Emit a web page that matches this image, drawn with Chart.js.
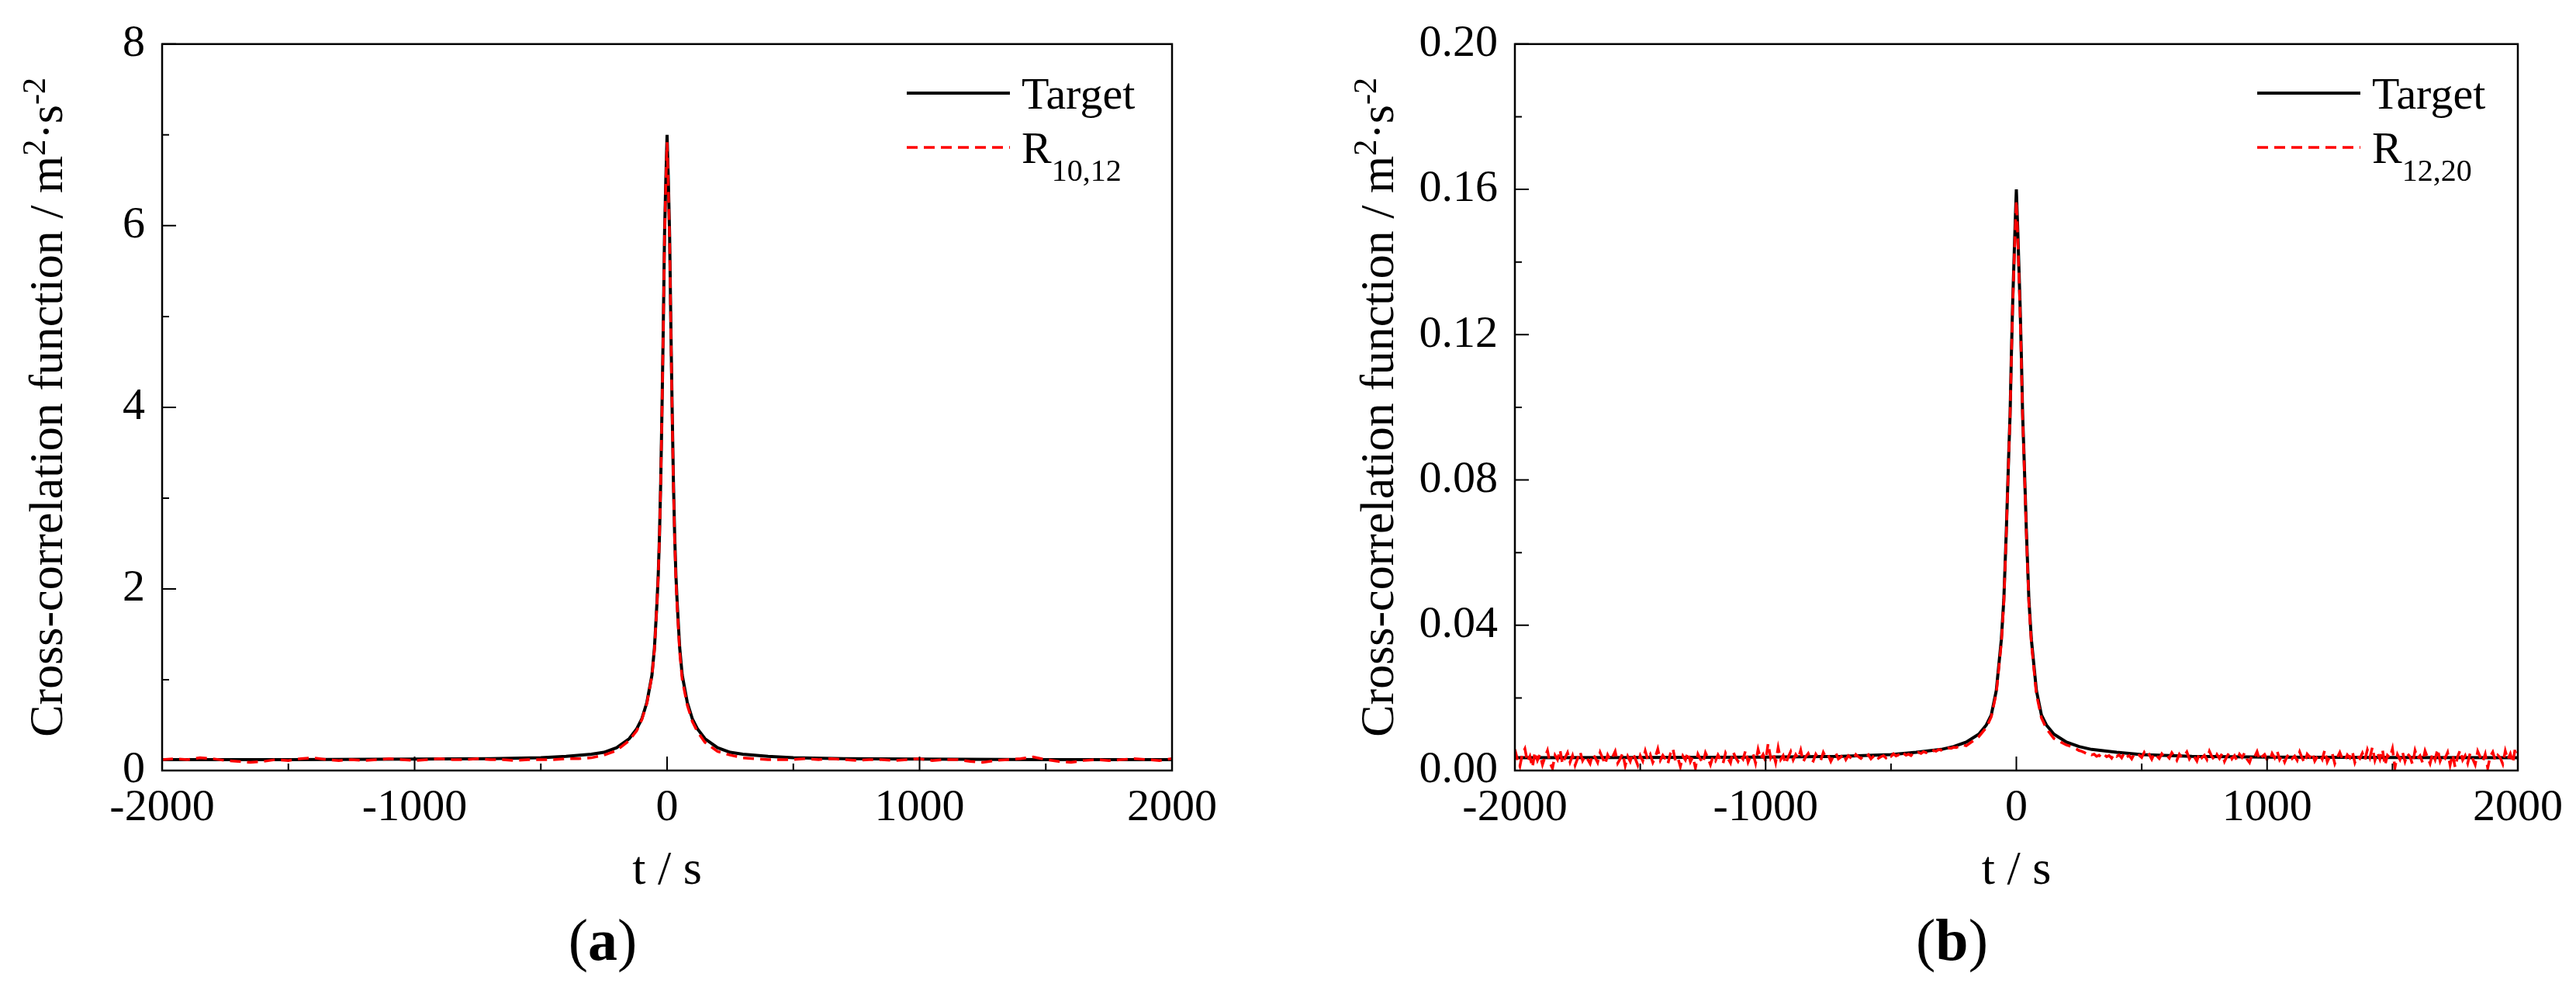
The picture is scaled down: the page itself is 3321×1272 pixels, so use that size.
<!DOCTYPE html>
<html>
<head>
<meta charset="utf-8">
<script src="https://cdn.jsdelivr.net/npm/chart.js@4"></script>
<style>
  body { margin: 0; background: #fff; overflow: hidden; }
  .panel { position: absolute; top: 0; }
</style>
</head>
<body>
<div class="panel" style="left:0px"><canvas id="chartA" width="1660" height="1272"></canvas></div>
<div class="panel" style="left:1660px"><canvas id="chartB" width="1661" height="1272"></canvas></div>
<script>
// time grid for the smooth target curves (s)
var tGrid = [-2000, -1500, -1000, -700, -500, -400, -300, -250, -200, -150, -120, -100, -80, -60, -50, -40, -35, -30, -25, -20, -15, -10, -5,
             0, 5, 10, 15, 20, 25, 30, 35, 40, 50, 60, 80, 100, 120, 150, 200, 250, 300, 400, 500, 700, 1000, 1500, 2000];
// central part used by the red curves
var tMid = [-200, -150, -120, -100, -80, -60, -50, -40, -35, -30, -25, -20, -15, -10, -5,
            0, 5, 10, 15, 20, 25, 30, 35, 40, 50, 60, 80, 100, 120, 150, 200];

// (a) target and R10,12
var targetA = [0.12, 0.12, 0.125, 0.13, 0.14, 0.155, 0.18, 0.2, 0.25, 0.35, 0.46, 0.57, 0.75, 1.05, 1.35, 1.85, 2.15, 2.6, 3.2, 4.0, 4.9, 5.9, 6.5,
               7.0, 6.5, 5.9, 4.9, 4.0, 3.2, 2.6, 2.15, 1.85, 1.35, 1.05, 0.75, 0.57, 0.46, 0.35, 0.25, 0.2, 0.18, 0.155, 0.14, 0.13, 0.125, 0.12, 0.12];
// tails every 50 s
var redALeft = [0.12, 0.13, 0.12, 0.14, 0.13, 0.11, 0.10, 0.09, 0.10, 0.12, 0.11, 0.13, 0.14, 0.12, 0.11, 0.12, 0.11, 0.12,
                0.13, 0.12, 0.11, 0.12, 0.13, 0.12, 0.12, 0.13, 0.12, 0.12, 0.11, 0.12, 0.12, 0.12, 0.13, 0.13, 0.14, 0.17];
var redAMid = [0.22, 0.33, 0.44, 0.56, 0.74, 1.04, 1.33, 1.84, 2.14, 2.58, 3.18, 3.98, 4.88, 5.88, 6.45,
               6.92, 6.42, 5.85, 4.85, 3.95, 3.15, 2.55, 2.1, 1.8, 1.3, 1.0, 0.72, 0.54, 0.43, 0.31, 0.21];
var redARight = [0.17, 0.14, 0.13, 0.12, 0.12, 0.12, 0.13, 0.12, 0.13, 0.12, 0.11, 0.12, 0.12, 0.11, 0.12, 0.13, 0.11, 0.12,
                 0.12, 0.10, 0.09, 0.11, 0.12, 0.13, 0.15, 0.12, 0.10, 0.09, 0.11, 0.12, 0.11, 0.12, 0.13, 0.12, 0.11, 0.13];

// (b) target and R12,20
var targetB = [0.0035, 0.0036, 0.0037, 0.0039, 0.0044, 0.0050, 0.0058, 0.0066, 0.0078, 0.0100, 0.0125, 0.0153, 0.0220, 0.0360, 0.0470, 0.0660, 0.0770, 0.0880, 0.0980, 0.1140, 0.1280, 0.1390, 0.1500,
               0.1600, 0.1500, 0.1390, 0.1280, 0.1140, 0.0980, 0.0880, 0.0770, 0.0660, 0.0470, 0.0360, 0.0220, 0.0153, 0.0125, 0.0100, 0.0078, 0.0066, 0.0058, 0.0050, 0.0044, 0.0039, 0.0037, 0.0036, 0.0035];
// tails every 10 s (-2000..-210 and 210..2000)
var redBLeft = [
  0.0058, 0.0031, 0.0012, 0.0046, 0.0060, 0.0024, 0.0039, 0.0009, 0.0051, 0.0028,
  0.0044, 0.0016, 0.0037, 0.0055, 0.0021, 0.0006, 0.0042, 0.0030, 0.0057, 0.0018,
  0.0035, 0.0049, 0.0023, 0.0041, 0.0014, 0.0033, 0.0052, 0.0027, 0.0040, 0.0031,
  0.0019, 0.0045, 0.0036, 0.0022, 0.0050, 0.0034, 0.0017, 0.0043, 0.0029, 0.0038,
  0.0053, 0.0020, 0.0032, 0.0047, 0.0013, 0.0039, 0.0025, 0.0048, 0.0033, 0.0015,
  0.0041, 0.0026, 0.0054, 0.0030, 0.0044, 0.0022, 0.0037, 0.0059, 0.0028, 0.0042,
  0.0032, 0.0018, 0.0046, 0.0061, 0.0027, 0.0035, 0.0011, 0.0040, 0.0029, 0.0050,
  0.0024, 0.0038, 0.0007, 0.0045, 0.0031, 0.0020, 0.0049, 0.0034, 0.0016, 0.0039,
  0.0027, 0.0043, 0.0030, 0.0019, 0.0048, 0.0033, 0.0021, 0.0052, 0.0036, 0.0025,
  0.0040, 0.0031, 0.0055, 0.0023, 0.0039, 0.0046, 0.0020, 0.0058, 0.0032, 0.0044,
  0.0026, 0.0074, 0.0035, 0.0049, 0.0022, 0.0063, 0.0030, 0.0041, 0.0018, 0.0037,
  0.0052, 0.0029, 0.0044, 0.0033, 0.0056, 0.0024, 0.0038, 0.0047, 0.0031, 0.0026,
  0.0045, 0.0034, 0.0028, 0.0050, 0.0036, 0.0042, 0.0025, 0.0039, 0.0048, 0.0032,
  0.0037, 0.0046, 0.0030, 0.0041, 0.0035, 0.0029, 0.0044, 0.0038, 0.0033, 0.0040,
  0.0036, 0.0043, 0.0032, 0.0039, 0.0045, 0.0034, 0.0038, 0.0041, 0.0035, 0.0044,
  0.0039, 0.0046, 0.0040, 0.0043, 0.0038, 0.0047, 0.0042, 0.0045, 0.0041, 0.0049,
  0.0046, 0.0050, 0.0047, 0.0052, 0.0049, 0.0054, 0.0051, 0.0055, 0.0053, 0.0058,
  0.0056, 0.0060, 0.0058, 0.0062, 0.0061, 0.0064, 0.0063, 0.0066, 0.0067, 0.0070];
var redBMid = [0.0068, 0.0093, 0.0118, 0.0148, 0.0213, 0.0350, 0.0462, 0.0652, 0.0765, 0.0875, 0.0975, 0.1130, 0.1270, 0.1380, 0.1480,
               0.1570, 0.1480, 0.1370, 0.1260, 0.1120, 0.0970, 0.0870, 0.0760, 0.0650, 0.0460, 0.0350, 0.0210, 0.0145, 0.0115, 0.0088, 0.0070];
var redBRight = [
  0.0068, 0.0065, 0.0062, 0.0059, 0.0055, 0.0053, 0.0050, 0.0046, 0.0048, 0.0043,
  0.0045, 0.0039, 0.0042, 0.0036, 0.0044, 0.0038, 0.0041, 0.0034, 0.0046, 0.0039,
  0.0043, 0.0035, 0.0048, 0.0037, 0.0041, 0.0032, 0.0045, 0.0039, 0.0042, 0.0036,
  0.0050, 0.0038, 0.0044, 0.0031, 0.0047, 0.0040, 0.0033, 0.0046, 0.0037, 0.0042,
  0.0034, 0.0049, 0.0039, 0.0028, 0.0045, 0.0036, 0.0041, 0.0051, 0.0032, 0.0043,
  0.0037, 0.0026, 0.0048, 0.0035, 0.0042, 0.0030, 0.0053, 0.0038, 0.0029, 0.0044,
  0.0033, 0.0046, 0.0025, 0.0039, 0.0050, 0.0032, 0.0041, 0.0027, 0.0045, 0.0036,
  0.0048, 0.0031, 0.0022, 0.0043, 0.0037, 0.0052, 0.0029, 0.0038, 0.0044, 0.0030,
  0.0026, 0.0047, 0.0035, 0.0054, 0.0030, 0.0041, 0.0023, 0.0039, 0.0046, 0.0033,
  0.0040, 0.0028, 0.0051, 0.0034, 0.0021, 0.0045, 0.0037, 0.0049, 0.0026, 0.0038,
  0.0044, 0.0031, 0.0056, 0.0024, 0.0039, 0.0047, 0.0019, 0.0036, 0.0050, 0.0032,
  0.0027, 0.0043, 0.0035, 0.0053, 0.0022, 0.0040, 0.0033, 0.0048, 0.0029, 0.0057,
  0.0036, 0.0064, 0.0028, 0.0049, 0.0031, 0.0058, 0.0014, 0.0042, 0.0035, 0.0060,
  0.0008, 0.0044, 0.0030, 0.0051, 0.0025, 0.0046, 0.0038, 0.0017, 0.0055, 0.0033,
  0.0041, 0.0022, 0.0054, 0.0036, 0.0019, 0.0047, 0.0030, 0.0059, 0.0026, 0.0043,
  0.0034, 0.0050, 0.0015, 0.0044, 0.0009, 0.0038, 0.0056, 0.0029, 0.0041, 0.0020,
  0.0048, 0.0032, 0.0016, 0.0053, 0.0037, 0.0024, 0.0045, 0.0007, 0.0039, 0.0051,
  0.0028, 0.0042, 0.0035, 0.0018, 0.0054, 0.0030, 0.0046, 0.0021, 0.0063, 0.0049];

var xTicks = [-2000, -1000, 0, 1000, 2000];

function range(from, to, step) {
  var out = [];
  for (var v = from; v <= to; v += step) out.push(v);
  return out;
}
function pts(ts, ys) {
  return ts.map(function (t, i) { return { x: t, y: ys[i] }; });
}

var redATimes = range(-2000, -250, 50).concat(tMid, range(250, 2000, 50));
var redBTimes = range(-2000, -210, 10).concat(tMid, range(210, 2000, 10));
var redA = redALeft.concat(redAMid, redARight);
var redB = redBLeft.concat(redBMid, redBRight);

var SERIF = '"Liberation Serif", serif';

// box, inward ticks, titles, legend and panel letter
var decor = {
  id: 'decor',
  afterDraw: function (chart, args, o) {
    var ctx = chart.ctx, a = chart.chartArea, xs = chart.scales.x, ys = chart.scales.y;
    ctx.save();
    ctx.strokeStyle = '#000';
    ctx.lineWidth = 2.5;
    ctx.strokeRect(a.left, a.top, a.right - a.left, a.bottom - a.top);

    ctx.lineWidth = 2;
    ctx.beginPath();
    var n = Math.round((xs.max - xs.min) / o.xMinor);
    for (var i = 0; i <= n; i++) {
      var px = xs.getPixelForValue(xs.min + i * o.xMinor);
      ctx.moveTo(px, a.bottom);
      ctx.lineTo(px, a.bottom - (i % 2 === 0 ? 18 : 9));
    }
    n = Math.round((ys.max - ys.min) / o.yMinor);
    for (i = 0; i <= n; i++) {
      var py = ys.getPixelForValue(ys.min + i * o.yMinor);
      ctx.moveTo(a.left, py);
      ctx.lineTo(a.left + (i % 2 === 0 ? 18 : 9), py);
    }
    ctx.stroke();

    ctx.fillStyle = '#000';
    // x title
    ctx.font = '62px ' + SERIF;
    ctx.textAlign = 'center';
    ctx.textBaseline = 'middle';
    var cx = (a.left + a.right) / 2;
    ctx.fillText('t / s', cx, 1123);

    // y title with superscripts
    var base = '62px ' + SERIF, sup = '42px ' + SERIF;
    var parts = [
      { t: 'Cross-correlation function / m', f: base, dy: 0 },
      { t: '2', f: sup, dy: -22 },
      { t: '\u00b7s', f: base, dy: 0 },
      { t: '-2', f: sup, dy: -22 }
    ];
    var total = 0;
    parts.forEach(function (p) { ctx.font = p.f; p.w = ctx.measureText(p.t).width; total += p.w; });
    ctx.translate(a.left - o.yTitleOff, (a.top + a.bottom) / 2);
    ctx.rotate(-Math.PI / 2);
    ctx.textAlign = 'left';
    ctx.textBaseline = 'alphabetic';
    var x = -total / 2;
    parts.forEach(function (p) { ctx.font = p.f; ctx.fillText(p.t, x, 20 + p.dy); x += p.w; });
    ctx.setTransform(1, 0, 0, 1, 0, 0);

    // legend
    var lx = a.right - o.legendOff, lw = 133;
    ctx.lineWidth = 4;
    ctx.strokeStyle = '#000';
    ctx.beginPath(); ctx.moveTo(lx, 120); ctx.lineTo(lx + lw, 120); ctx.stroke();
    ctx.strokeStyle = '#ff0000';
    ctx.lineWidth = 3.5;
    ctx.setLineDash([14, 8]);
    ctx.beginPath(); ctx.moveTo(lx, 190); ctx.lineTo(lx + lw, 190); ctx.stroke();
    ctx.setLineDash([]);
    ctx.font = '58px ' + SERIF;
    ctx.textAlign = 'left';
    ctx.textBaseline = 'alphabetic';
    ctx.fillText('Target', lx + lw + 15, 140);
    ctx.fillText('R', lx + lw + 15, 210);
    var rw = ctx.measureText('R').width;
    ctx.font = '40px ' + SERIF;
    ctx.fillText(o.sub, lx + lw + 15 + rw, 233);

    // panel letter
    ctx.font = '76px ' + SERIF;
    var w1 = ctx.measureText('(').width;
    ctx.font = 'bold 76px ' + SERIF;
    var w2 = ctx.measureText(o.panel).width;
    var px0 = cx - 83 - (w1 * 2 + w2) / 2;
    ctx.textBaseline = 'middle';
    ctx.font = '76px ' + SERIF;
    ctx.fillText('(', px0, 1217);
    ctx.fillText(')', px0 + w1 + w2, 1217);
    ctx.font = 'bold 76px ' + SERIF;
    ctx.fillText(o.panel, px0 + w1, 1217);
    ctx.restore();
  }
};

function makeChart(id, target, redTimes, red, cfg) {
  var ctx = document.getElementById(id).getContext('2d');
  return new Chart(ctx, {
    type: 'line',
    data: {
      datasets: [{
        label: 'Target',
        data: pts(tGrid, target),
        borderColor: '#000000',
        borderWidth: 4,
        pointRadius: 0,
        tension: 0,
        order: 2
      }, {
        label: cfg.redLabel,
        data: pts(redTimes, red),
        borderColor: '#ff0000',
        borderWidth: 3.5,
        borderDash: [14, 8],
        pointRadius: 0,
        tension: 0,
        order: 1
      }]
    },
    options: {
      responsive: false,
      animation: false,
      devicePixelRatio: 1,
      layout: { padding: { left: 0, top: 39, right: cfg.padRight, bottom: 0 } },
      plugins: {
        legend: { display: false },
        tooltip: { enabled: false },
        decor: cfg.decor
      },
      scales: {
        x: {
          type: 'linear',
          min: -2000, max: 2000,
          grid: { display: false, drawTicks: false },
          border: { display: false },
          afterBuildTicks: function (s) { s.ticks = xTicks.map(function (v) { return { value: v }; }); },
          afterFit: function (s) { s.height = 279; },
          ticks: {
            padding: 14,
            color: '#000',
            font: { family: SERIF, size: 58 },
            maxRotation: 0,
            callback: function (v) { return String(v); }
          }
        },
        y: {
          min: cfg.yMin, max: cfg.yMax,
          grid: { display: false, drawTicks: false },
          border: { display: false },
          afterFit: function (s) { s.width = cfg.yWidth; },
          ticks: {
            stepSize: cfg.yStep,
            padding: 22,
            color: '#000',
            font: { family: SERIF, size: 58 },
            callback: cfg.yFmt
          }
        }
      }
    },
    plugins: [decor]
  });
}

makeChart('chartA', targetA, redATimes, redA, {
  redLabel: 'R10,12', padRight: 149, yWidth: 209,
  yMin: 0, yMax: 8, yStep: 2,
  yFmt: function (v) { return String(v); },
  decor: { xMinor: 500, yMinor: 1, yTitleOff: 149, legendOff: 342, sub: '10,12', panel: 'a' }
});

makeChart('chartB', targetB, redBTimes, redB, {
  redLabel: 'R12,20', padRight: 75, yWidth: 293,
  yMin: 0, yMax: 0.2, yStep: 0.04,
  yFmt: function (v) { return v.toFixed(2); },
  decor: { xMinor: 500, yMinor: 0.02, yTitleOff: 177, legendOff: 336, sub: '12,20', panel: 'b' }
});
</script>
</body>
</html>
